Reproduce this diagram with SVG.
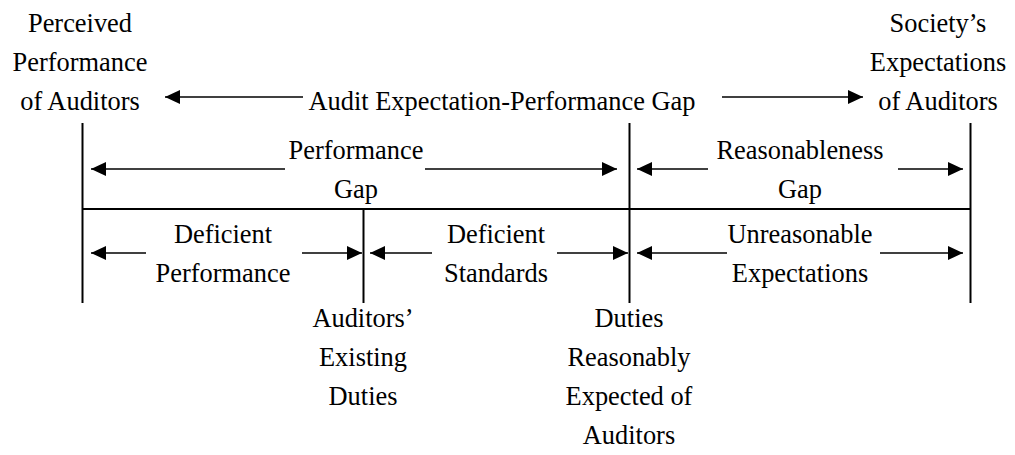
<svg xmlns="http://www.w3.org/2000/svg" width="1015" height="455" viewBox="0 0 1015 455">
<style>
text{font-family:"Liberation Serif","Times New Roman",serif;font-size:26.4px;fill:#000;text-anchor:middle}
.frame{stroke:#000;stroke-width:2;fill:none}
.arr{stroke:#000;stroke-width:1.4;fill:none;marker-end:url(#ah)}
</style>
<defs>
<marker id="ah" viewBox="0 0 15 14" refX="15" refY="7" markerWidth="15" markerHeight="14" markerUnits="userSpaceOnUse" orient="auto">
<path d="M0,0 L15,7 L0,14 z" fill="#000"/>
</marker>
</defs>
<rect width="1015" height="455" fill="#fff"/>
<g id="frame">
<line class="frame" x1="82.5" y1="123" x2="82.5" y2="303"/>
<line class="frame" x1="629.5" y1="123" x2="629.5" y2="303"/>
<line class="frame" x1="970.5" y1="123" x2="970.5" y2="303"/>
<line class="frame" x1="363.5" y1="209" x2="363.5" y2="303"/>
<line class="frame" x1="82" y1="209" x2="971" y2="209"/>
</g>
<g id="connectors">
<line class="arr" x1="303" y1="97" x2="165" y2="97"/>
<line class="arr" x1="722" y1="97" x2="863" y2="97"/>
<line class="arr" x1="285" y1="169" x2="91" y2="169"/>
<line class="arr" x1="425" y1="169" x2="617" y2="169"/>
<line class="arr" x1="708" y1="169" x2="637" y2="169"/>
<line class="arr" x1="898" y1="169" x2="963" y2="169"/>
<line class="arr" x1="146" y1="253" x2="91" y2="253"/>
<line class="arr" x1="302" y1="253" x2="362" y2="253"/>
<line class="arr" x1="432" y1="253" x2="370" y2="253"/>
<line class="arr" x1="557" y1="253" x2="628" y2="253"/>
<line class="arr" x1="727" y1="253" x2="637" y2="253"/>
<line class="arr" x1="880" y1="253" x2="963" y2="253"/>
</g>
<g id="perceived">
<text x="80" y="32">Perceived</text>
<text x="80" y="71">Performance</text>
<text x="80" y="110">of Auditors</text>
</g>
<g id="audit-gap">
<text x="502" y="110">Audit Expectation-Performance Gap</text>
</g>
<g id="society">
<text x="938" y="32">Society’s</text>
<text x="938" y="71">Expectations</text>
<text x="938" y="110">of Auditors</text>
</g>
<g id="performance-gap">
<text x="356" y="159">Performance</text>
<text x="356" y="198">Gap</text>
</g>
<g id="reasonableness-gap">
<text x="800" y="159">Reasonableness</text>
<text x="800" y="198">Gap</text>
</g>
<g id="deficient-performance">
<text x="223" y="243">Deficient</text>
<text x="223" y="282">Performance</text>
</g>
<g id="deficient-standards">
<text x="496" y="243">Deficient</text>
<text x="496" y="282">Standards</text>
</g>
<g id="unreasonable-expectations">
<text x="800" y="243">Unreasonable</text>
<text x="800" y="282">Expectations</text>
</g>
<g id="existing-duties">
<text x="363" y="327">Auditors’</text>
<text x="363" y="366">Existing</text>
<text x="363" y="405">Duties</text>
</g>
<g id="reasonable-duties">
<text x="629" y="327">Duties</text>
<text x="629" y="366">Reasonably</text>
<text x="629" y="405">Expected of</text>
<text x="629" y="444">Auditors</text>
</g>
</svg>
